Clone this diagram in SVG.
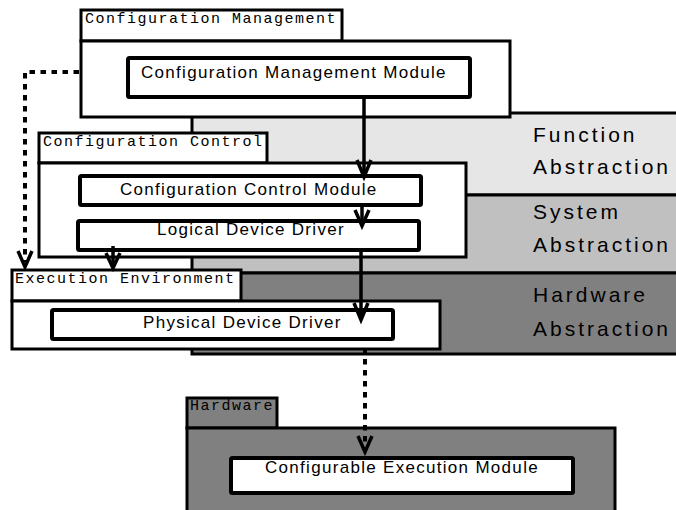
<svg xmlns="http://www.w3.org/2000/svg" width="676" height="510" viewBox="0 0 676 510">
  <defs>
    <style>
      .pkg { fill: #ffffff; stroke: #000; stroke-width: 3; }
      .pkg-hw { fill: #808080; stroke: #000; stroke-width: 3; }
      .mod { fill: #ffffff; stroke: #000; stroke-width: 4; }
      .band { stroke: #000; stroke-width: 3; }
      .tab-label { font-family: "Liberation Mono", "Courier New", monospace; font-size: 15px; letter-spacing: 1.5px; fill: #000; }
      .mod-label { font-family: "Liberation Sans", Arial, sans-serif; font-size: 17px; letter-spacing: 1.3px; fill: #000; }
      .band-label { font-family: "Liberation Sans", Arial, sans-serif; font-size: 21px; letter-spacing: 3px; fill: #000; }
      .edge { fill: none; stroke: #000; stroke-width: 3.5; }
      .dotted { fill: none; stroke: #000; stroke-width: 4; stroke-dasharray: 5.5 5.5; }
      .head { fill: none; stroke: #000; stroke-width: 3.5; stroke-linejoin: miter; }
    </style>
  </defs>

  <!-- abstraction layers -->
  <g id="layers">
    <rect class="band" x="192" y="113" width="500" height="82" fill="#e6e6e6"/>
    <rect class="band" x="192" y="195" width="500" height="78" fill="#c0c0c0"/>
    <rect class="band" x="192" y="273" width="500" height="81" fill="#808080"/>
    <text class="band-label" x="533" y="142">Function</text>
    <text class="band-label" x="533" y="174">Abstraction</text>
    <text class="band-label" x="533" y="219">System</text>
    <text class="band-label" x="533" y="252">Abstraction</text>
    <text class="band-label" x="533" y="302">Hardware</text>
    <text class="band-label" x="533" y="336">Abstraction</text>
  </g>

  <!-- Configuration Management package -->
  <g id="configuration-management">
    <rect class="pkg" x="81" y="10" width="261" height="31"/>
    <rect class="pkg" x="81" y="41" width="429" height="76"/>
    <text class="tab-label" x="85" y="23">Configuration Management</text>
  </g>
  <g id="configuration-management-module">
    <rect class="mod" x="128" y="58" width="342" height="39" rx="1.5"/>
    <text class="mod-label" x="141" y="78">Configuration Management Module</text>
  </g>

  <!-- Configuration Control package -->
  <g id="configuration-control">
    <rect class="pkg" x="39" y="133" width="228" height="30"/>
    <rect class="pkg" x="39" y="163" width="427" height="94"/>
    <text class="tab-label" x="43" y="146">Configuration Control</text>
  </g>
  <g id="configuration-control-module">
    <rect class="mod" x="80" y="176" width="341" height="29" rx="1.5"/>
    <text class="mod-label" x="120" y="195">Configuration Control Module</text>
  </g>
  <g id="logical-device-driver">
    <rect class="mod" x="78" y="221" width="341" height="29" rx="1.5"/>
    <text class="mod-label" x="157" y="235">Logical Device Driver</text>
  </g>

  <!-- Execution Environment package -->
  <g id="execution-environment">
    <rect class="pkg" x="12" y="270" width="229" height="31"/>
    <rect class="pkg" x="12" y="301" width="428" height="48"/>
    <text class="tab-label" x="15" y="283">Execution Environment</text>
  </g>
  <g id="physical-device-driver">
    <rect class="mod" x="52" y="310" width="341" height="29" rx="1.5"/>
    <text class="mod-label" x="143" y="328">Physical Device Driver</text>
  </g>

  <!-- Hardware package -->
  <g id="hardware">
    <rect class="pkg-hw" x="187" y="398" width="90" height="30"/>
    <rect class="pkg-hw" x="187" y="428" width="428" height="90"/>
    <text class="tab-label" x="190" y="410">Hardware</text>
  </g>
  <g id="configurable-execution-module">
    <rect class="mod" x="231" y="458" width="342" height="35" rx="1.5"/>
    <text class="mod-label" x="265" y="473">Configurable Execution Module</text>
  </g>

  <!-- connectors -->
  <g id="connectors">
    <path class="edge" d="M364 99 V177"/>
    <path class="head" d="M357 160 L364 177 L371 160"/>

    <path class="edge" d="M362 205 V226"/>
    <path class="head" d="M355 210 L362 226 L369 210"/>

    <path class="edge" d="M361 252 V320"/>
    <path class="head" d="M354 303 L361 320 L368 303"/>

    <path class="edge" d="M113 246 V268"/>
    <path class="head" d="M106 253 L113 268 L120 253"/>

    <path class="dotted" d="M79 72 H25 V262"/>
    <path class="head" d="M18 251 L25 267 L32 251"/>

    <path class="dotted" d="M365 348 V447"/>
    <path class="head" d="M358 436 L365 452 L372 436"/>
  </g>
</svg>
